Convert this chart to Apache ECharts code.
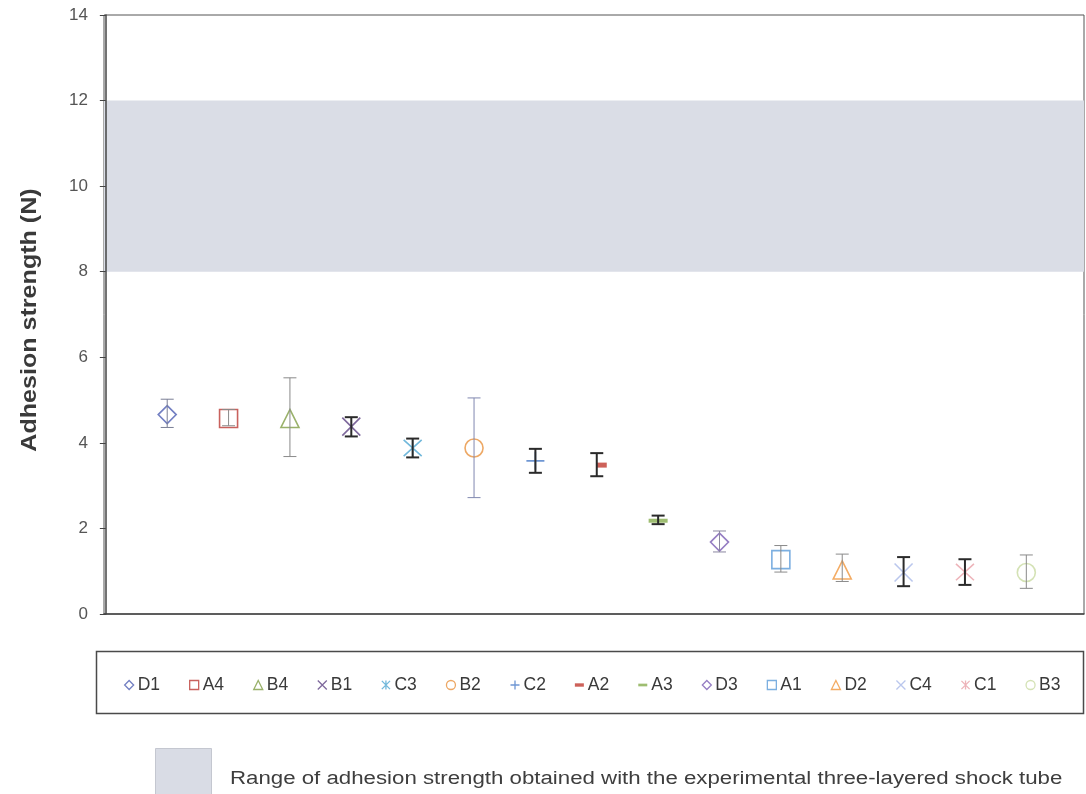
<!DOCTYPE html>
<html>
<head>
<meta charset="utf-8">
<script src="https://cdn.jsdelivr.net/npm/echarts@6/dist/echarts.min.js"></script>
<style>
  html, body { margin: 0; padding: 0; background: #fff; }
  #chart { width: 1086px; height: 794px; }
</style>
</head>
<body>
<div id="chart"></div>
<script>
// Specimen codes, in plotting order
const labels = ['D1', 'A4', 'B4', 'B1', 'C3', 'B2', 'C2', 'A2', 'A3', 'D3', 'A1', 'D2', 'C4', 'C1', 'B3'];
// Mean adhesion strength (N)
const means = [4.66, 4.57, 4.57, 4.38, 3.88, 3.88, 3.58, 3.48, 2.18, 1.68, 1.27, 1.03, 0.97, 0.98, 0.97];
// Error bar limits (N)
const lows  = [4.36, 4.40, 3.68, 4.15, 3.66, 2.72, 3.30, 3.22, 2.10, 1.45, 0.98, 0.76, 0.65, 0.68, 0.60];
const highs = [5.02, 4.78, 5.52, 4.60, 4.10, 5.05, 3.86, 3.76, 2.30, 1.94, 1.60, 1.40, 1.33, 1.28, 1.38];
// Range measured with the three-layered shock tube (N)
const bandRange = [8, 12];
const yTicks = { min: 0, max: 14, interval: 2 };
const yTitle = 'Adhesion strength (N)';
const bandCaption = 'Range of adhesion strength obtained with the experimental three-layered shock tube';

// Marker styling
const markerColors = ['#4F5FB3', '#BC3A34', '#7F9E45', '#5E4283', '#4DA6D2', '#E8923E', '#4A7CC8',
  '#C0392F', '#86AD4E', '#7A5DB4', '#5B9BD8', '#F0963C', '#A9B9E9', '#E8A0A8', '#C9DBA3'];
const P = {
  diamond: 'path://M10,0L20,10L10,20L0,10Z',
  square: 'path://M0,0H20V20H0Z',
  triangle: 'path://M10,0L20,20H0Z',
  cross: 'path://M0,0L20,20M20,0L0,20',
  star: 'path://M0,0L20,20M20,0L0,20M10,-1V21',
  plus: 'path://M10,0V20M0,10H20',
  shortDash: 'path://M0,0H10V5H0Z',
  longDash: 'path://M0,0H20V4H0Z'
};
const markerShapes = ['diamond', 'square', 'triangle', 'cross', 'star', 'circle', 'plus', 'shortDash',
  'longDash', 'diamond', 'square', 'triangle', 'cross', 'star', 'circle'];
// Error bar tone: dark bars are heavier
const barDark = [false, false, false, true, true, false, true, true, true, false, false, false, true, true, false];
const barGrey = ['#7A7F95', '#8A8A8A', '#8A8A8A', '#2A2A2A', '#2A2A2A', '#8088B0', '#2A2A2A', '#2A2A2A',
  '#2A2A2A', '#8A86A0', '#8A8A8A', '#8A8A8A', '#2A2A2A', '#2A2A2A', '#8A8A8A'];

const FONT = 'Liberation Sans, Arial, sans-serif';

function symbolFor(shape) { return shape === 'circle' ? 'circle' : P[shape]; }
function isFilled(shape) { return shape === 'shortDash' || shape === 'longDash'; }

const chart = echarts.init(document.getElementById('chart'), null, { renderer: 'canvas' });

const scatterSeries = labels.map((name, i) => {
  const shape = markerShapes[i];
  const filled = isFilled(shape);
  let size = 18;
  let offset = [0, 0];
  if (shape === 'shortDash') { size = [10, 5]; offset = [5, 0]; }
  if (shape === 'longDash') { size = [19, 4]; }
  return {
    name: name,
    type: 'scatter',
    z: 3,
    symbol: symbolFor(shape),
    symbolSize: size,
    symbolOffset: offset,
    symbolKeepAspect: false,
    itemStyle: filled
      ? { color: markerColors[i], borderWidth: 0 }
      : { color: 'rgba(0,0,0,0)', borderColor: markerColors[i], borderWidth: 1.6 },
    emphasis: { disabled: true },
    data: [[i + 1, means[i]]]
  };
});

const errorSeries = {
  type: 'custom',
  name: 'error',
  z: 4,
  silent: true,
  data: labels.map((_, i) => [i + 1, lows[i], highs[i]]),
  renderItem: function (params, api) {
    const x = api.value(0);
    const lo = api.coord([x, api.value(1)]);
    const hi = api.coord([x, api.value(2)]);
    const dark = barDark[params.dataIndex];
    const style = { stroke: barGrey[params.dataIndex], lineWidth: dark ? 2 : 1 };
    const half = 6.5;
    return {
      type: 'group',
      children: [
        { type: 'line', shape: { x1: lo[0], y1: lo[1], x2: hi[0], y2: hi[1] }, style: style },
        { type: 'line', shape: { x1: lo[0] - half, y1: lo[1], x2: lo[0] + half, y2: lo[1] }, style: style },
        { type: 'line', shape: { x1: hi[0] - half, y1: hi[1], x2: hi[0] + half, y2: hi[1] }, style: style }
      ]
    };
  }
};

// Shaded reference range carried by an empty helper series
const bandSeries = {
  type: 'scatter',
  name: 'band',
  data: [],
  silent: true,
  z: 1,
  markArea: {
    silent: true,
    itemStyle: { color: '#DADDE6' },
    data: [[{ yAxis: bandRange[0] }, { yAxis: bandRange[1] }]]
  }
};

const legendData = labels.map((name, i) => {
  const shape = markerShapes[i];
  const filled = isFilled(shape);
  let icon = symbolFor(shape);
  if (shape === 'shortDash') icon = 'path://M0,0H8V3H0Z';
  if (shape === 'longDash') icon = 'path://M0,0H10V3H0Z';
  return {
    name: name,
    icon: icon,
    itemStyle: filled
      ? { color: markerColors[i], borderWidth: 0 }
      : { color: 'rgba(0,0,0,0)', borderColor: markerColors[i], borderWidth: 1.3 }
  };
});

const option = {
  backgroundColor: '#ffffff',
  animation: false,
  textStyle: { fontFamily: FONT },
  grid: {
    left: 104, right: 2, top: 15, bottom: 180,
    show: true, borderColor: '#555', borderWidth: 1, backgroundColor: 'rgba(0,0,0,0)'
  },
  xAxis: {
    type: 'value',
    z: 10,
    min: -0.03, max: 15.94,
    axisLine: { show: true, lineStyle: { color: '#444', width: 1.5 } },
    axisTick: { show: false },
    axisLabel: { show: false },
    splitLine: { show: false }
  },
  yAxis: {
    type: 'value',
    z: 10,
    min: yTicks.min, max: yTicks.max, interval: yTicks.interval,
    axisLine: { show: true, lineStyle: { color: '#444', width: 1.5 } },
    axisTick: { show: true, inside: false, length: 6, lineStyle: { color: '#444', width: 1 } },
    axisLabel: { margin: 16, fontSize: 17, color: '#555' },
    splitLine: { show: false }
  },
  legend: {
    data: legendData,
    selectedMode: false,
    orient: 'horizontal',
    left: 119,
    top: 671,
    itemWidth: 9,
    itemHeight: 9,
    itemGap: 29,
    textStyle: { fontSize: 17.5, color: '#3a3a3a', padding: [0, 0, 0, -1] }
  },
  graphic: [
    {
      // Y axis title, rotated
      type: 'text', z: 10, silent: true,
      x: 30, y: 320, rotation: Math.PI / 2, scaleX: 1.14,
      style: {
        text: yTitle, fontSize: 22, fontWeight: 'bold', fill: '#3a3a3a', fontFamily: FONT,
        align: 'center', verticalAlign: 'middle'
      }
    },
    {
      type: 'rect', z: 10, silent: true,
      shape: { x: 96.5, y: 651.5, width: 987, height: 62 },
      style: { fill: 'none', stroke: '#4a4a4a', lineWidth: 1.5 }
    },
    {
      type: 'rect', z: 10, silent: true,
      shape: { x: 155.5, y: 748.5, width: 56, height: 46 },
      style: { fill: '#D9DCE5', stroke: '#C4C7D0', lineWidth: 1 }
    },
    {
      type: 'text', z: 10, silent: true,
      x: 230, y: 779, scaleX: 1.236,
      style: {
        text: bandCaption,
        fontSize: 18, fill: '#3e3e3e', fontFamily: FONT,
        verticalAlign: 'middle', align: 'left'
      }
    }
  ],
  series: [bandSeries].concat(scatterSeries, [errorSeries])
};

chart.setOption(option);
</script>
</body>
</html>
